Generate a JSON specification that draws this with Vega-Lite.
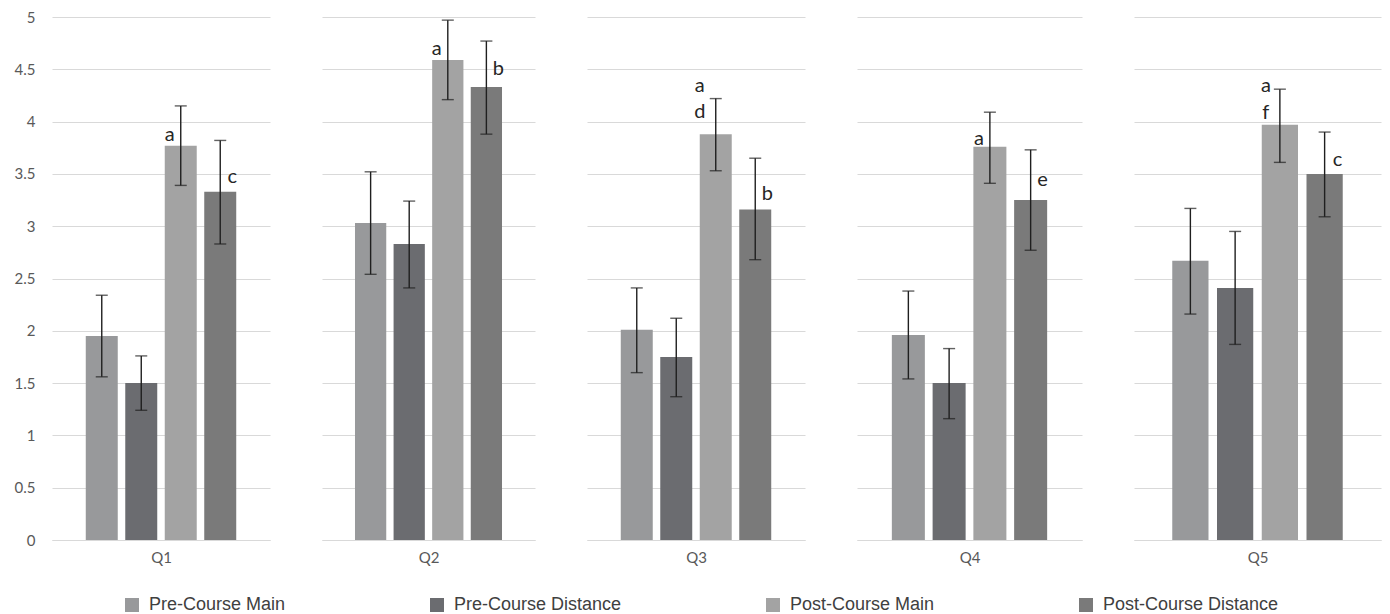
{
  "$schema": "https://vega.github.io/schema/vega-lite/v6.json",
  "padding": {"left": 5, "top": 10, "right": 5, "bottom": 0},
  "background": "white",
  "bounds": "flush",
  "spacing": 52,
  "config": {
    "view": {"stroke": null},
    "font": "Lato",
    "axis": {"gridColor": "#d9d9d9", "gridWidth": 1, "labelColor": "#595959", "titleColor": "#595959", "labelFont": "Lato", "titleFont": "Lato", "labelFontSize": 15, "titleFontSize": 15, "titleFontWeight": "normal"}
  },
  "datasets": {
    "bars": [
      {"q": "Q1", "group": "Pre-Course Main", "mean": 1.95, "lo": 1.56, "hi": 2.34},
      {"q": "Q1", "group": "Pre-Course Distance", "mean": 1.50, "lo": 1.24, "hi": 1.76},
      {"q": "Q1", "group": "Post-Course Main", "mean": 3.77, "lo": 3.39, "hi": 4.15},
      {"q": "Q1", "group": "Post-Course Distance", "mean": 3.33, "lo": 2.83, "hi": 3.82},
      {"q": "Q2", "group": "Pre-Course Main", "mean": 3.03, "lo": 2.54, "hi": 3.52},
      {"q": "Q2", "group": "Pre-Course Distance", "mean": 2.83, "lo": 2.41, "hi": 3.24},
      {"q": "Q2", "group": "Post-Course Main", "mean": 4.59, "lo": 4.21, "hi": 4.97},
      {"q": "Q2", "group": "Post-Course Distance", "mean": 4.33, "lo": 3.88, "hi": 4.77},
      {"q": "Q3", "group": "Pre-Course Main", "mean": 2.01, "lo": 1.60, "hi": 2.41},
      {"q": "Q3", "group": "Pre-Course Distance", "mean": 1.75, "lo": 1.37, "hi": 2.12},
      {"q": "Q3", "group": "Post-Course Main", "mean": 3.88, "lo": 3.53, "hi": 4.22},
      {"q": "Q3", "group": "Post-Course Distance", "mean": 3.16, "lo": 2.68, "hi": 3.65},
      {"q": "Q4", "group": "Pre-Course Main", "mean": 1.96, "lo": 1.54, "hi": 2.38},
      {"q": "Q4", "group": "Pre-Course Distance", "mean": 1.50, "lo": 1.16, "hi": 1.83},
      {"q": "Q4", "group": "Post-Course Main", "mean": 3.76, "lo": 3.41, "hi": 4.09},
      {"q": "Q4", "group": "Post-Course Distance", "mean": 3.25, "lo": 2.77, "hi": 3.73},
      {"q": "Q5", "group": "Pre-Course Main", "mean": 2.67, "lo": 2.16, "hi": 3.17},
      {"q": "Q5", "group": "Pre-Course Distance", "mean": 2.41, "lo": 1.87, "hi": 2.95},
      {"q": "Q5", "group": "Post-Course Main", "mean": 3.97, "lo": 3.61, "hi": 4.31},
      {"q": "Q5", "group": "Post-Course Distance", "mean": 3.50, "lo": 3.09, "hi": 3.90}
    ],
    "labels": [
      {"q": "Q1", "group": "Post-Course Main", "mean": 3.77, "letter": "a", "line": "bottom"},
      {"q": "Q1", "group": "Post-Course Distance", "mean": 3.33, "letter": "c", "line": "bottom"},
      {"q": "Q2", "group": "Post-Course Main", "mean": 4.59, "letter": "a", "line": "bottom"},
      {"q": "Q2", "group": "Post-Course Distance", "mean": 4.33, "letter": "b", "line": "bottom"},
      {"q": "Q3", "group": "Post-Course Main", "mean": 3.88, "letter": "d", "line": "bottom"},
      {"q": "Q3", "group": "Post-Course Main", "mean": 3.88, "letter": "a", "line": "top"},
      {"q": "Q3", "group": "Post-Course Distance", "mean": 3.16, "letter": "b", "line": "bottom"},
      {"q": "Q4", "group": "Post-Course Main", "mean": 3.76, "letter": "a", "line": "bottom"},
      {"q": "Q4", "group": "Post-Course Distance", "mean": 3.25, "letter": "e", "line": "bottom"},
      {"q": "Q5", "group": "Post-Course Main", "mean": 3.97, "letter": "f", "line": "bottom"},
      {"q": "Q5", "group": "Post-Course Main", "mean": 3.97, "letter": "a", "line": "top"},
      {"q": "Q5", "group": "Post-Course Distance", "mean": 3.50, "letter": "c", "line": "bottom"}
    ]
  },
  "resolve": {"scale": {"color": "shared", "y": "shared"}},
  "hconcat": [
    {
      "width": 218, "height": 523,
      "encoding": {
        "x": {"field": "group", "type": "nominal", "sort": null,
          "scale": {"domain": ["Pre-Course Main", "Pre-Course Distance", "Post-Course Main", "Post-Course Distance"], "paddingInner": 0.19, "paddingOuter": 0.855},
          "axis": {"title": "Q1", "labels": false, "ticks": false, "domain": true, "domainColor": "#d9d9d9", "titlePadding": 10}}
      },
      "layer": [
        {"data": {"name": "bars"}, "transform": [{"filter": "datum.q === 'Q1'"}], "mark": {"type": "bar"},
          "encoding": {
            "y": {"field": "mean", "type": "quantitative", "scale": {"domain": [0, 5], "nice": false},
              "axis": {"title": null, "values": [0, 0.5, 1, 1.5, 2, 2.5, 3, 3.5, 4, 4.5, 5], "format": "~g", "domain": false, "ticks": false, "tickSize": 0, "labelPadding": 17, "minExtent": 47, "grid": true}},
            "color": {"field": "group", "type": "nominal", "sort": null,
              "scale": {"domain": ["Pre-Course Main", "Pre-Course Distance", "Post-Course Main", "Post-Course Distance"], "range": ["#98999b", "#6b6c70", "#a3a3a3", "#7a7a7a"]},
              "legend": {"orient": "none", "legendX": 71, "legendY": 579, "direction": "horizontal", "columns": 4, "title": null, "symbolType": "square", "symbolSize": 196, "symbolStrokeWidth": 0, "labelFont": "Liberation Sans", "labelFontSize": 18, "labelColor": "#404040", "labelOffset": 8, "columnPadding": 142, "labelLimit": 400}}
          }},
        {"data": {"name": "bars"}, "transform": [{"filter": "datum.q === 'Q1'"}], "mark": {"type": "rule", "color": "#1f1f1f", "strokeWidth": 1.4},
          "encoding": {"y": {"field": "lo", "type": "quantitative"}, "y2": {"field": "hi"}}},
        {"data": {"name": "bars"}, "transform": [{"filter": "datum.q === 'Q1'"}], "mark": {"type": "tick", "color": "#1f1f1f", "thickness": 1.4, "size": 12},
          "encoding": {"y": {"field": "lo", "type": "quantitative"}}},
        {"data": {"name": "bars"}, "transform": [{"filter": "datum.q === 'Q1'"}], "mark": {"type": "tick", "color": "#1f1f1f", "thickness": 1.4, "size": 12},
          "encoding": {"y": {"field": "hi", "type": "quantitative"}}},
        {"data": {"name": "labels"}, "transform": [{"filter": "datum.q === 'Q1' && datum.group === 'Post-Course Main' && datum.line === 'bottom'"}], "mark": {"type": "text", "font": "Lato", "fontSize": 20, "color": "#262626", "dx": -11, "dy": -5, "baseline": "alphabetic"},
          "encoding": {"y": {"field": "mean", "type": "quantitative"}, "text": {"field": "letter"}}},
        {"data": {"name": "labels"}, "transform": [{"filter": "datum.q === 'Q1' && datum.group === 'Post-Course Distance'"}], "mark": {"type": "text", "font": "Lato", "fontSize": 20, "color": "#262626", "dx": 12, "dy": -9, "baseline": "alphabetic"},
          "encoding": {"y": {"field": "mean", "type": "quantitative"}, "text": {"field": "letter"}}}
      ]
    },
    {
      "width": 213, "height": 523,
      "encoding": {
        "x": {"field": "group", "type": "nominal", "sort": null,
          "scale": {"domain": ["Pre-Course Main", "Pre-Course Distance", "Post-Course Main", "Post-Course Distance"], "paddingInner": 0.19, "paddingOuter": 0.855},
          "axis": {"title": "Q2", "labels": false, "ticks": false, "domain": true, "domainColor": "#d9d9d9", "titlePadding": 10}}
      },
      "layer": [
        {"data": {"name": "bars"}, "transform": [{"filter": "datum.q === 'Q2'"}], "mark": {"type": "bar"},
          "encoding": {
            "y": {"field": "mean", "type": "quantitative", "scale": {"domain": [0, 5], "nice": false},
              "axis": {"title": null, "values": [0, 0.5, 1, 1.5, 2, 2.5, 3, 3.5, 4, 4.5, 5], "domain": false, "ticks": false, "tickSize": 0, "labels": false, "grid": true, "minExtent": 0, "maxExtent": 0}},
            "color": {"field": "group", "type": "nominal", "sort": null,
              "scale": {"domain": ["Pre-Course Main", "Pre-Course Distance", "Post-Course Main", "Post-Course Distance"], "range": ["#98999b", "#6b6c70", "#a3a3a3", "#7a7a7a"]}}
          }},
        {"data": {"name": "bars"}, "transform": [{"filter": "datum.q === 'Q2'"}], "mark": {"type": "rule", "color": "#1f1f1f", "strokeWidth": 1.4},
          "encoding": {"y": {"field": "lo", "type": "quantitative"}, "y2": {"field": "hi"}}},
        {"data": {"name": "bars"}, "transform": [{"filter": "datum.q === 'Q2'"}], "mark": {"type": "tick", "color": "#1f1f1f", "thickness": 1.4, "size": 12},
          "encoding": {"y": {"field": "lo", "type": "quantitative"}}},
        {"data": {"name": "bars"}, "transform": [{"filter": "datum.q === 'Q2'"}], "mark": {"type": "tick", "color": "#1f1f1f", "thickness": 1.4, "size": 12},
          "encoding": {"y": {"field": "hi", "type": "quantitative"}}},
        {"data": {"name": "labels"}, "transform": [{"filter": "datum.q === 'Q2' && datum.group === 'Post-Course Main' && datum.line === 'bottom'"}], "mark": {"type": "text", "font": "Lato", "fontSize": 20, "color": "#262626", "dx": -11, "dy": -5, "baseline": "alphabetic"},
          "encoding": {"y": {"field": "mean", "type": "quantitative"}, "text": {"field": "letter"}}},
        {"data": {"name": "labels"}, "transform": [{"filter": "datum.q === 'Q2' && datum.group === 'Post-Course Distance'"}], "mark": {"type": "text", "font": "Lato", "fontSize": 20, "color": "#262626", "dx": 12, "dy": -12, "baseline": "alphabetic"},
          "encoding": {"y": {"field": "mean", "type": "quantitative"}, "text": {"field": "letter"}}}
      ]
    },
    {
      "width": 218, "height": 523,
      "encoding": {
        "x": {"field": "group", "type": "nominal", "sort": null,
          "scale": {"domain": ["Pre-Course Main", "Pre-Course Distance", "Post-Course Main", "Post-Course Distance"], "paddingInner": 0.19, "paddingOuter": 0.855},
          "axis": {"title": "Q3", "labels": false, "ticks": false, "domain": true, "domainColor": "#d9d9d9", "titlePadding": 10}}
      },
      "layer": [
        {"data": {"name": "bars"}, "transform": [{"filter": "datum.q === 'Q3'"}], "mark": {"type": "bar"},
          "encoding": {
            "y": {"field": "mean", "type": "quantitative", "scale": {"domain": [0, 5], "nice": false},
              "axis": {"title": null, "values": [0, 0.5, 1, 1.5, 2, 2.5, 3, 3.5, 4, 4.5, 5], "domain": false, "ticks": false, "tickSize": 0, "labels": false, "grid": true, "minExtent": 0, "maxExtent": 0}},
            "color": {"field": "group", "type": "nominal", "sort": null,
              "scale": {"domain": ["Pre-Course Main", "Pre-Course Distance", "Post-Course Main", "Post-Course Distance"], "range": ["#98999b", "#6b6c70", "#a3a3a3", "#7a7a7a"]}}
          }},
        {"data": {"name": "bars"}, "transform": [{"filter": "datum.q === 'Q3'"}], "mark": {"type": "rule", "color": "#1f1f1f", "strokeWidth": 1.4},
          "encoding": {"y": {"field": "lo", "type": "quantitative"}, "y2": {"field": "hi"}}},
        {"data": {"name": "bars"}, "transform": [{"filter": "datum.q === 'Q3'"}], "mark": {"type": "tick", "color": "#1f1f1f", "thickness": 1.4, "size": 12},
          "encoding": {"y": {"field": "lo", "type": "quantitative"}}},
        {"data": {"name": "bars"}, "transform": [{"filter": "datum.q === 'Q3'"}], "mark": {"type": "tick", "color": "#1f1f1f", "thickness": 1.4, "size": 12},
          "encoding": {"y": {"field": "hi", "type": "quantitative"}}},
        {"data": {"name": "labels"}, "transform": [{"filter": "datum.q === 'Q3' && datum.group === 'Post-Course Main' && datum.line === 'bottom'"}], "mark": {"type": "text", "font": "Lato", "fontSize": 20, "color": "#262626", "dx": -16, "dy": -16, "baseline": "alphabetic"},
          "encoding": {"y": {"field": "mean", "type": "quantitative"}, "text": {"field": "letter"}}},
        {"data": {"name": "labels"}, "transform": [{"filter": "datum.q === 'Q3' && datum.group === 'Post-Course Main' && datum.line === 'top'"}], "mark": {"type": "text", "font": "Lato", "fontSize": 20, "color": "#262626", "dx": -16, "dy": -42, "baseline": "alphabetic"},
          "encoding": {"y": {"field": "mean", "type": "quantitative"}, "text": {"field": "letter"}}},
        {"data": {"name": "labels"}, "transform": [{"filter": "datum.q === 'Q3' && datum.group === 'Post-Course Distance'"}], "mark": {"type": "text", "font": "Lato", "fontSize": 20, "color": "#262626", "dx": 12, "dy": -9, "baseline": "alphabetic"},
          "encoding": {"y": {"field": "mean", "type": "quantitative"}, "text": {"field": "letter"}}}
      ]
    },
    {
      "width": 225, "height": 523,
      "encoding": {
        "x": {"field": "group", "type": "nominal", "sort": null,
          "scale": {"domain": ["Pre-Course Main", "Pre-Course Distance", "Post-Course Main", "Post-Course Distance"], "paddingInner": 0.19, "paddingOuter": 0.855},
          "axis": {"title": "Q4", "labels": false, "ticks": false, "domain": true, "domainColor": "#d9d9d9", "titlePadding": 10}}
      },
      "layer": [
        {"data": {"name": "bars"}, "transform": [{"filter": "datum.q === 'Q4'"}], "mark": {"type": "bar"},
          "encoding": {
            "y": {"field": "mean", "type": "quantitative", "scale": {"domain": [0, 5], "nice": false},
              "axis": {"title": null, "values": [0, 0.5, 1, 1.5, 2, 2.5, 3, 3.5, 4, 4.5, 5], "domain": false, "ticks": false, "tickSize": 0, "labels": false, "grid": true, "minExtent": 0, "maxExtent": 0}},
            "color": {"field": "group", "type": "nominal", "sort": null,
              "scale": {"domain": ["Pre-Course Main", "Pre-Course Distance", "Post-Course Main", "Post-Course Distance"], "range": ["#98999b", "#6b6c70", "#a3a3a3", "#7a7a7a"]}}
          }},
        {"data": {"name": "bars"}, "transform": [{"filter": "datum.q === 'Q4'"}], "mark": {"type": "rule", "color": "#1f1f1f", "strokeWidth": 1.4},
          "encoding": {"y": {"field": "lo", "type": "quantitative"}, "y2": {"field": "hi"}}},
        {"data": {"name": "bars"}, "transform": [{"filter": "datum.q === 'Q4'"}], "mark": {"type": "tick", "color": "#1f1f1f", "thickness": 1.4, "size": 12},
          "encoding": {"y": {"field": "lo", "type": "quantitative"}}},
        {"data": {"name": "bars"}, "transform": [{"filter": "datum.q === 'Q4'"}], "mark": {"type": "tick", "color": "#1f1f1f", "thickness": 1.4, "size": 12},
          "encoding": {"y": {"field": "hi", "type": "quantitative"}}},
        {"data": {"name": "labels"}, "transform": [{"filter": "datum.q === 'Q4' && datum.group === 'Post-Course Main' && datum.line === 'bottom'"}], "mark": {"type": "text", "font": "Lato", "fontSize": 20, "color": "#262626", "dx": -11, "dy": -2, "baseline": "alphabetic"},
          "encoding": {"y": {"field": "mean", "type": "quantitative"}, "text": {"field": "letter"}}},
        {"data": {"name": "labels"}, "transform": [{"filter": "datum.q === 'Q4' && datum.group === 'Post-Course Distance'"}], "mark": {"type": "text", "font": "Lato", "fontSize": 20, "color": "#262626", "dx": 12, "dy": -14, "baseline": "alphabetic"},
          "encoding": {"y": {"field": "mean", "type": "quantitative"}, "text": {"field": "letter"}}}
      ]
    },
    {
      "width": 247, "height": 523,
      "encoding": {
        "x": {"field": "group", "type": "nominal", "sort": null,
          "scale": {"domain": ["Pre-Course Main", "Pre-Course Distance", "Post-Course Main", "Post-Course Distance"], "paddingInner": 0.19, "paddingOuter": 0.855},
          "axis": {"title": "Q5", "labels": false, "ticks": false, "domain": true, "domainColor": "#d9d9d9", "titlePadding": 10}}
      },
      "layer": [
        {"data": {"name": "bars"}, "transform": [{"filter": "datum.q === 'Q5'"}], "mark": {"type": "bar"},
          "encoding": {
            "y": {"field": "mean", "type": "quantitative", "scale": {"domain": [0, 5], "nice": false},
              "axis": {"title": null, "values": [0, 0.5, 1, 1.5, 2, 2.5, 3, 3.5, 4, 4.5, 5], "domain": false, "ticks": false, "tickSize": 0, "labels": false, "grid": true, "minExtent": 0, "maxExtent": 0}},
            "color": {"field": "group", "type": "nominal", "sort": null,
              "scale": {"domain": ["Pre-Course Main", "Pre-Course Distance", "Post-Course Main", "Post-Course Distance"], "range": ["#98999b", "#6b6c70", "#a3a3a3", "#7a7a7a"]}}
          }},
        {"data": {"name": "bars"}, "transform": [{"filter": "datum.q === 'Q5'"}], "mark": {"type": "rule", "color": "#1f1f1f", "strokeWidth": 1.4},
          "encoding": {"y": {"field": "lo", "type": "quantitative"}, "y2": {"field": "hi"}}},
        {"data": {"name": "bars"}, "transform": [{"filter": "datum.q === 'Q5'"}], "mark": {"type": "tick", "color": "#1f1f1f", "thickness": 1.4, "size": 12},
          "encoding": {"y": {"field": "lo", "type": "quantitative"}}},
        {"data": {"name": "bars"}, "transform": [{"filter": "datum.q === 'Q5'"}], "mark": {"type": "tick", "color": "#1f1f1f", "thickness": 1.4, "size": 12},
          "encoding": {"y": {"field": "hi", "type": "quantitative"}}},
        {"data": {"name": "labels"}, "transform": [{"filter": "datum.q === 'Q5' && datum.group === 'Post-Course Main' && datum.line === 'bottom'"}], "mark": {"type": "text", "font": "Lato", "fontSize": 20, "color": "#262626", "dx": -14, "dy": -6, "baseline": "alphabetic"},
          "encoding": {"y": {"field": "mean", "type": "quantitative"}, "text": {"field": "letter"}}},
        {"data": {"name": "labels"}, "transform": [{"filter": "datum.q === 'Q5' && datum.group === 'Post-Course Main' && datum.line === 'top'"}], "mark": {"type": "text", "font": "Lato", "fontSize": 20, "color": "#262626", "dx": -14, "dy": -33, "baseline": "alphabetic"},
          "encoding": {"y": {"field": "mean", "type": "quantitative"}, "text": {"field": "letter"}}},
        {"data": {"name": "labels"}, "transform": [{"filter": "datum.q === 'Q5' && datum.group === 'Post-Course Distance'"}], "mark": {"type": "text", "font": "Lato", "fontSize": 20, "color": "#262626", "dx": 13, "dy": -8, "baseline": "alphabetic"},
          "encoding": {"y": {"field": "mean", "type": "quantitative"}, "text": {"field": "letter"}}}
      ]
    }
  ]
}
